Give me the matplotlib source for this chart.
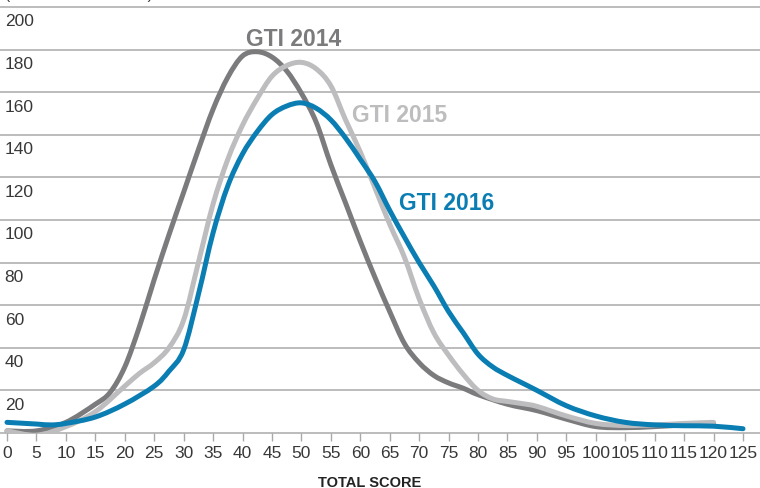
import matplotlib
matplotlib.use("Agg")
import matplotlib.pyplot as plt
from matplotlib.path import Path
from matplotlib.patches import PathPatch

plt.rcParams['font.family'] = ['Liberation Sans', 'DejaVu Sans']

# total score (x) and number of countries (y)
x_2014 = [0, 5, 10, 15, 17.5, 20, 22.5, 25, 27.5, 30, 32.5, 35, 37.5, 40, 42.5, 45,
          47.5, 50, 52.5, 55, 57.5, 60, 62.5, 65, 67.5, 70, 72.5, 75, 77.5, 80, 85,
          90, 95, 100, 105, 110, 115, 120]
y_2014 = [1, 1, 5, 13.5, 19, 31, 50, 72, 93, 113, 133, 152, 167, 177, 179, 176.5,
          170, 159.5, 146, 126, 108, 90, 73, 57, 42, 33, 27, 23.5, 21, 18, 13.5,
          10.5, 6.5, 3, 2.5, 3, 3.8, 4.5]

x_2015 = [0, 5, 10, 15, 20, 22.5, 25, 27.5, 30, 32.5, 35, 37.5, 40, 42.5, 45, 47.5,
          50, 52.5, 55, 57.5, 60, 62.5, 65, 67.5, 70, 72.5, 75, 77.5, 80, 82.5, 85,
          87.5, 90, 95, 100, 105, 110, 115, 120]
y_2015 = [1, -1, 3, 10, 22, 28, 33, 40, 53, 80, 107.5, 128.5, 144.5, 157, 167.5, 172.5,
          174, 171, 163, 147, 132, 115, 98, 82.5, 63, 47, 36.5, 27.5, 20, 16, 14.8,
          13.8, 12.5, 8, 4.5, 3.5, 3.8, 4.5, 5]

x_2016 = [0, 5, 7.5, 10, 15, 20, 25, 27.5, 30, 32.5, 35, 37.5, 40, 42.5, 45, 47.5,
          50, 52.5, 55, 57.5, 60, 62.5, 65, 67.5, 70, 72.5, 75, 77.5, 80, 82.5, 85,
          87.5, 90, 95, 100, 105, 110, 115, 120, 125]
y_2016 = [5, 4.2, 3.8, 4.5, 7.5, 13.6, 22, 29, 39, 65, 94, 116, 131, 141.5, 149.5, 153.5,
          155, 152.5, 147, 138.5, 128.5, 118, 104.5, 92, 80, 69, 57, 47, 37, 31, 27,
          23.5, 20, 12.8, 8, 5, 3.8, 3.4, 3.2, 2]

x_ticks = list(range(0, 126, 5))
y_ticks = [20, 40, 60, 80, 100, 120, 140, 160, 180, 200]

c_2014 = '#7b7b7d'
c_2015 = '#bdbdbf'
c_2016 = '#0a7db3'
grid_c = '#a9a9a9'
text_c = '#383838'


def smooth_path(xs, ys):
    # catmull-rom through the read points, drawn as bezier segments
    pts = list(zip(xs, ys))
    verts = [pts[0]]
    codes = [Path.MOVETO]
    for i in range(len(pts) - 1):
        p0 = pts[i - 1] if i > 0 else pts[i]
        p1 = pts[i]
        p2 = pts[i + 1]
        p3 = pts[i + 2] if i + 2 < len(pts) else pts[i + 1]
        c1 = (p1[0] + (p2[0] - p0[0]) / 6, p1[1] + (p2[1] - p0[1]) / 6)
        c2 = (p2[0] - (p3[0] - p1[0]) / 6, p2[1] - (p3[1] - p1[1]) / 6)
        verts += [c1, c2, p2]
        codes += [Path.CURVE4] * 3
    return Path(verts, codes)


fig = plt.figure(figsize=(7.6, 4.89), dpi=100)
ax = fig.add_axes([0, 55 / 489, 1, 434 / 489])
ax.set_xlim(-7 / 5.888, 753 / 5.888)
ax.set_ylim(0, 434 / 2.13)

for v in y_ticks:
    ax.axhline(v, color=grid_c, lw=1.1, zorder=1)
    ax.text(-0.4, v - 8.6, str(v), ha='left', va='baseline', fontsize=12.5,
            color=text_c, zorder=2)

for xs, ys, c, z in [(x_2014, y_2014, c_2014, 3), (x_2015, y_2015, c_2015, 4),
                     (x_2016, y_2016, c_2016, 5)]:
    ax.add_patch(PathPatch(smooth_path(xs, ys), facecolor='none', edgecolor=c,
                           lw=3.6, capstyle='round', joinstyle='round', zorder=z))

lab = dict(ha='center', va='baseline', fontsize=16.5, fontweight='bold', zorder=6)
ax.text(48.7, 182.2, 'GTI 2014', color=c_2014, **lab)
ax.text(66.7, 146.5, 'GTI 2015', color=c_2015, **lab)
ax.text(74.6, 105.2, 'GTI 2016', color=c_2016, **lab)

for s in ['top', 'right', 'left']:
    ax.spines[s].set_visible(False)
ax.spines['bottom'].set_color(grid_c)
ax.spines['bottom'].set_linewidth(1.1)
ax.set_yticks([])
ax.set_xticks(x_ticks)
ax.set_xticklabels([str(t) for t in x_ticks], fontsize=12.5, color=text_c)
ax.tick_params(axis='x', direction='out', length=6, width=1, color=grid_c, pad=3)

fig.text(370 / 760, 2 / 489, 'TOTAL SCORE', ha='center', va='baseline',
         fontsize=10.5, fontweight='bold', color='#222222')
fig.text(5 / 760, 1.003, '(Number of countries)', ha='left', va='baseline',
         fontsize=11, color=text_c)

fig.savefig('out.png', dpi=100)
